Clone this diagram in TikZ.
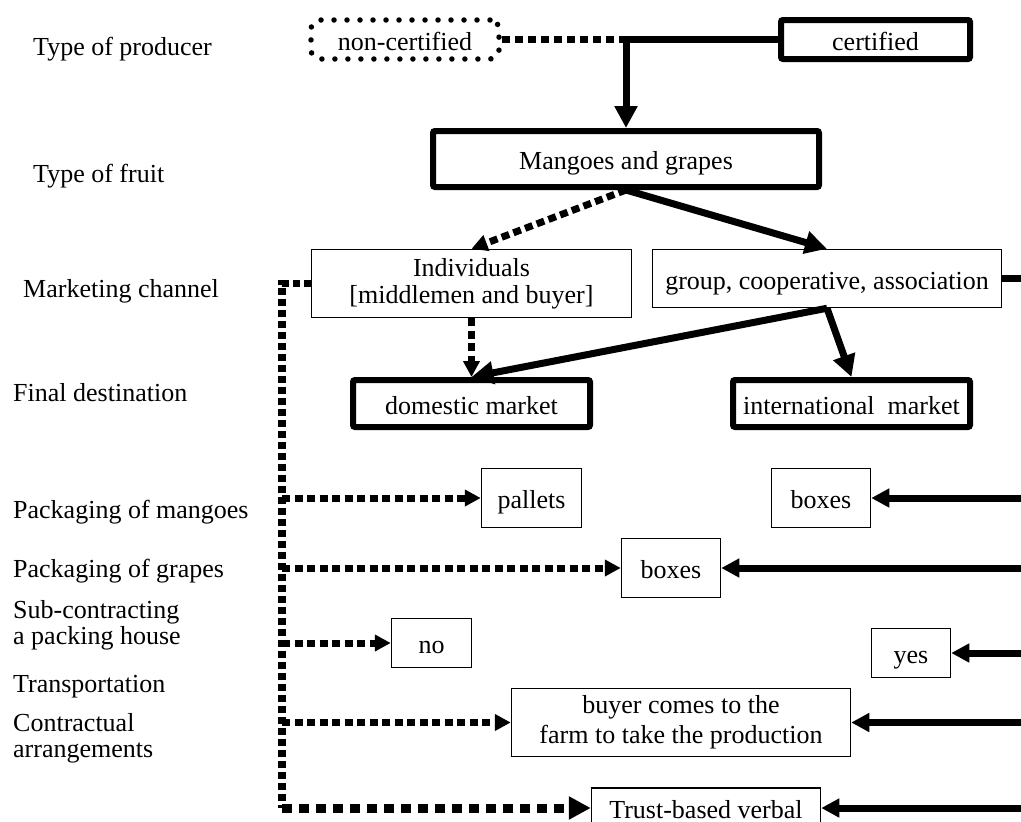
\documentclass[tikz,border=0pt]{standalone}
\usepackage{fontspec}
\setmainfont{Liberation Serif}
\usetikzlibrary{arrows.meta}
\tikzset{
  every node/.style={font=\fontsize{26}{27}\selectfont},
  rowlabel/.style={anchor=base west,inner sep=0pt,align=left},
  rowlabeltwo/.style={anchor=west,inner sep=0pt,align=left,font=\fontsize{26}{26}\selectfont},
  box/.style={draw,line width=1.5pt,align=center,inner sep=0pt},
  onebox/.style={box,text height=21pt,text depth=0pt},
  bigbox/.style={onebox,line width=6pt,rounded corners=2pt},
  dotbox/.style={onebox,line width=5.5pt,dash pattern=on 0pt off 13pt,line cap=round,rounded corners=9pt},
  solidline/.style={line width=7pt},
  solidarr/.style={-{Triangle[length=22pt,width=22pt]},line width=7pt},
  sidearr/.style={-{Triangle[length=18pt,width=18pt]},line width=7pt},
  dotline/.style={line width=7.5pt,dash pattern=on 8pt off 5pt},
  dotarr/.style={-{Triangle[length=16pt,width=16pt]},line width=7pt,dash pattern=on 8pt off 4.5pt},
  trunkline/.style={line width=7.5pt,dash pattern=on 7pt off 4pt},
  bigdotarr/.style={-{Triangle[length=22pt,width=22pt]},line width=9pt,dash pattern=on 10pt off 7pt}
}
\begin{document}
\begin{tikzpicture}[x=1pt,y=-1pt]
  \useasboundingbox (0,0) rectangle (1021,822);

  % row labels
  \node[rowlabel] (lprod) at (33,55) {Type of producer};
  \node[rowlabel] (lfruit) at (33,182.5) {Type of fruit};
  \node[rowlabel] (lchan) at (23,297.5) {Marketing channel};
  \node[rowlabel] (ldest) at (13,401) {Final destination};
  \node[rowlabel] (lmango) at (13,518) {Packaging of mangoes};
  \node[rowlabel] (lgrape) at (13,577) {Packaging of grapes};
  \node[rowlabeltwo] (lsub) at (13,625) {Sub-contracting\\a packing house};
  \node[rowlabel] (ltrans) at (13,692.5) {Transportation};
  \node[rowlabeltwo] (lcontr) at (13,738) {Contractual\\arrangements};

  % boxes
  \node[dotbox,minimum width=188pt,minimum height=39pt] (noncert) at (405,39.5) {non-certified};
  \node[bigbox,minimum width=189pt,minimum height=39pt] (cert) at (875.5,39.5) {certified};
  \node[bigbox,minimum width=386pt,minimum height=56pt] (fruit) at (626,159) {Mangoes and grapes};
  \node[box,minimum width=320pt,minimum height=68pt] (indiv) at (471.5,283.5) {Individuals\\{[}middlemen and buyer{]}};
  \node[onebox,minimum width=349pt,minimum height=58pt] (group) at (827,278.5) {group, cooperative, association};
  \node[bigbox,minimum width=237pt,minimum height=47pt] (domestic) at (471.5,403.5) {domestic market};
  \node[bigbox,minimum width=237pt,minimum height=47pt] (intl) at (851.5,403.5) {international\ \ market};
  \node[onebox,minimum width=100pt,minimum height=59pt] (pallets) at (531.5,498) {pallets};
  \node[onebox,minimum width=99pt,minimum height=59pt] (mbox) at (821,498) {boxes};
  \node[onebox,minimum width=99pt,minimum height=59pt] (gbox) at (671,568) {boxes};
  \node[onebox,minimum width=80pt,minimum height=49pt] (no) at (431.5,643) {no};
  \node[onebox,minimum width=79pt,minimum height=49pt] (yes) at (911,653) {yes};
  \node[box,minimum width=339pt,minimum height=68pt,font=\fontsize{26}{30}\selectfont] (transp) at (681,722.5) {buyer comes to the\\farm to take the production};
  \node[onebox,minimum width=229pt,minimum height=40pt] (trust) at (706,808) {Trust-based verbal};

  \coordinate (trunk) at (282,808);
  \coordinate (edge) at (1022,278.5);

  % connectors
  \draw[dotline] (noncert.east) -- (noncert.east -| fruit.north);
  \draw[solidarr] (cert.west) -| (fruit.north);
  \draw[dotarr] (fruit.south) -- (indiv.north);
  \draw[solidarr] (fruit.south) -- (group.north);
  \draw[dotarr] (indiv.south) -- (domestic.north);
  \draw[solidarr] (group.south) -- (domestic.north);
  \draw[solidarr] (group.south) -- (intl.north);
  \draw[trunkline] (indiv.west) -| (trunk);
  \draw[bigdotarr] (trunk) -- (trust.west);
  \foreach \n in {pallets,gbox,no,transp}
    \draw[dotarr] (trunk |- \n.west) -- (\n.west);
  \draw[solidline] (group.east) -- (edge);
  \foreach \n in {mbox,gbox,yes,transp,trust}
    \draw[sidearr] (edge |- \n.east) -- (\n.east);
\end{tikzpicture}
\end{document}
